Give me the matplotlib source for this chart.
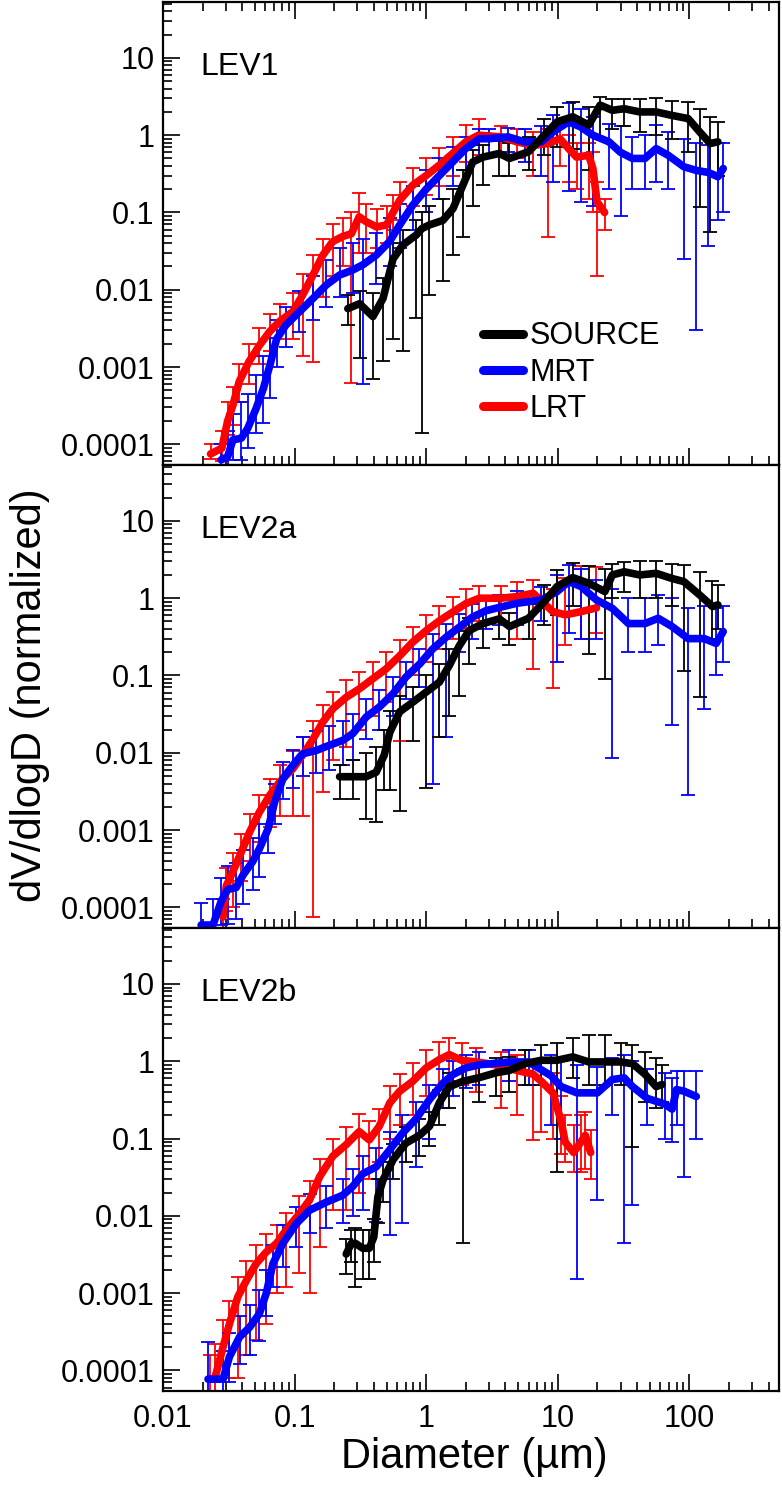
import numpy as np
import matplotlib
matplotlib.use('Agg')
import matplotlib.pyplot as plt
from matplotlib.ticker import FixedLocator, FuncFormatter

plt.rcParams['font.family'] = ['Liberation Sans', 'DejaVu Sans']

# ---------------- LEV1 ----------------
p1_lrt_x = [0.023, 0.028, 0.031, 0.034, 0.038, 0.045, 0.054, 0.065, 0.077, 0.097, 0.115, 0.138, 0.164,
            0.195, 0.233, 0.27, 0.31, 0.35, 0.42, 0.50, 0.56, 0.63, 0.79, 1.0, 1.26, 1.59, 2.0, 2.5,
            3.7, 4.9, 6.5, 8.5, 10.4, 12.1, 13.9, 17.2, 18.5, 19.9, 22.7]
p1_lrt_y = [7.5e-5, 8.9e-5, 2.0e-4, 3.2e-4, 6.5e-4, 1.17e-3, 1.9e-3, 2.9e-3, 3.9e-3, 5.2e-3, 8.5e-3, 0.0155,
            0.028, 0.042, 0.049, 0.053, 0.088, 0.076, 0.065, 0.069, 0.10, 0.144, 0.225, 0.30, 0.41, 0.58,
            0.82, 1.0, 0.95, 0.82, 0.74, 0.78, 0.9, 0.67, 0.52, 0.55, 0.37, 0.137, 0.10]
p1_lrt_hi = [1.0e-4, 1.5e-4, 3.5e-4, 5.5e-4, 1.1e-3, 2.0e-3, 3.2e-3, 4.8e-3, 6.5e-3, 9.0e-3, 0.016, 0.028,
             0.045, 0.07, 0.085, 0.10, 0.18, 0.13, 0.11, 0.12, 0.17, 0.25, 0.38, 0.5, 0.68, 0.95, 1.35,
             1.6, 1.3, 1.2, 1.1, 1.2, 1.3, 1.0, 0.8, 0.8, 0.6, 0.25, 0.15]
p1_lrt_lo = [6.5e-5, 6e-5, 1.3e-4, 1.8e-4, 3.5e-4, 6e-4, 1.1e-3, 1.6e-3, 2.3e-3, 2.3e-3, 1.4e-3, 1.15e-3,
             8e-3, 0.015, 0.02, 6.2e-4, 0.03, 0.03, 0.035, 0.04, 0.06, 0.08, 0.12, 0.17, 0.22, 0.3, 0.45,
             0.55, 0.6, 0.5, 0.3, 0.048, 0.4, 0.25, 0.2, 0.15, 0.1, 0.015, 0.06]

p1_mrt_x = [0.0277, 0.031, 0.034, 0.0394, 0.044, 0.051, 0.058, 0.065, 0.073, 0.086, 0.109, 0.138, 0.174,
            0.22, 0.277, 0.33, 0.417, 0.527, 0.63, 0.79, 1.0, 1.26, 1.59, 2.0, 2.54, 3.0, 4.2, 5.6, 7.5,
            9.2, 12.1, 14.9, 18.5, 24.5, 30, 37, 46, 56, 69, 91, 113, 139, 165, 181]
p1_mrt_y = [6.3e-5, 6.9e-5, 1.14e-4, 1.2e-4, 1.6e-4, 2.9e-4, 5.3e-4, 1.06e-3, 2.3e-3, 3.5e-3, 5.2e-3, 7.7e-3,
            0.0115, 0.0155, 0.018, 0.021, 0.028, 0.042, 0.069, 0.124, 0.20, 0.30, 0.45, 0.67, 0.9, 0.9,
            0.95, 0.82, 0.82, 1.1, 1.49, 1.28, 1.0, 0.82, 0.6, 0.5, 0.5, 0.67, 0.55, 0.39, 0.35, 0.33,
            0.29, 0.37]
p1_mrt_hi = [1.0e-4, 1.5e-4, 2.5e-4, 3.5e-4, 4.5e-4, 8e-4, 1.4e-3, 2.4e-3, 4e-3, 6e-3, 0.0095, 0.015, 0.024,
             0.035, 0.04, 0.045, 0.055, 0.085, 0.13, 0.22, 0.35, 0.5, 0.7, 0.95, 1.2, 1.2, 1.25, 1.2, 1.3,
             1.8, 2.6, 2.2, 1.7, 1.4, 1.3, 0.95, 1.0, 1.35, 1.1, 0.9, 0.8, 0.75, 0.8, 0.8]
p1_mrt_lo = [5e-5, 5e-5, 6.3e-5, 6.3e-5, 9e-5, 1.4e-4, 1.9e-4, 4e-4, 1e-3, 1.8e-3, 2.8e-3, 4e-3, 6e-3, 8e-3,
             9e-3, 6e-4, 0.012, 0.02, 0.035, 0.06, 0.1, 0.15, 0.22, 0.35, 0.5, 0.55, 0.6, 0.45, 0.3, 0.25,
             0.19, 0.137, 0.12, 0.2, 0.09, 0.2, 0.2, 0.25, 0.2, 0.025, 0.003, 0.037, 0.08, 0.1]

p1_src_x = [0.254, 0.312, 0.394, 0.47, 0.56, 0.665, 0.84, 0.93, 1.06, 1.34, 1.6, 1.9, 2.26, 2.7, 3.6, 4.3,
            6.0, 7.9, 9.9, 13, 17.2, 21, 26, 32, 42, 56, 74, 98, 120, 144, 165]
p1_src_y = [5.7e-3, 6.6e-3, 4.5e-3, 7.7e-3, 0.025, 0.038, 0.051, 0.062, 0.069, 0.079, 0.112, 0.225, 0.45,
            0.52, 0.58, 0.50, 0.61, 1.0, 1.49, 1.73, 1.35, 2.45, 2.1, 2.2, 2.0, 2.0, 1.8, 1.64, 1.1, 0.78,
            0.82]
p1_src_hi = [8.5e-3, 9.5e-3, 9e-3, 0.014, 0.04, 0.06, 0.08, 0.1, 0.12, 0.15, 0.2, 0.35, 0.65, 0.75, 0.85,
             0.8, 0.95, 1.6, 2.3, 2.7, 2.3, 3.1, 2.9, 2.9, 2.9, 3.0, 2.8, 2.7, 2.2, 1.7, 1.5]
p1_src_lo = [3.5e-3, 1.3e-3, 7e-4, 1.2e-3, 2.3e-3, 1.6e-3, 4.3e-3, 1.4e-4, 8.5e-3, 0.013, 0.028, 0.048,
             0.12, 0.225, 0.3, 0.3, 0.35, 0.55, 0.7, 0.67, 0.35, 0.9, 1.2, 1.3, 1.1, 1.0, 0.9, 0.6, 0.117,
             0.056, 0.3]

# ---------------- LEV2a ----------------
p2_lrt_x = [0.0286, 0.0303, 0.034, 0.0394, 0.0455, 0.054, 0.0646, 0.077, 0.097, 0.115, 0.138, 0.164, 0.195,
            0.246, 0.31, 0.394, 0.497, 0.63, 0.79, 1.0, 1.26, 1.59, 2.0, 2.54, 3.7, 4.9, 6.5, 9.2, 11.4,
            15.0, 19.7]
p2_lrt_y = [7.5e-5, 1.9e-4, 2.9e-4, 5.2e-4, 9.4e-4, 1.7e-3, 2.8e-3, 4.2e-3, 6.2e-3, 9.3e-3, 0.015, 0.025,
            0.037, 0.052, 0.067, 0.091, 0.122, 0.18, 0.27, 0.38, 0.51, 0.66, 0.85, 1.0, 1.0, 1.05, 1.16,
            0.67, 0.61, 0.67, 0.75]
p2_lrt_hi = [1.3e-4, 3.2e-4, 5e-4, 9e-4, 1.6e-3, 2.8e-3, 4.6e-3, 7e-3, 0.0105, 0.016, 0.026, 0.042, 0.062,
             0.088, 0.11, 0.15, 0.2, 0.29, 0.43, 0.6, 0.8, 1.05, 1.3, 1.45, 1.45, 1.6, 1.7, 1.3, 1.8, 2.6,
             2.5]
p2_lrt_lo = [5e-5, 9e-5, 1.0e-4, 2.2e-4, 4e-4, 7e-4, 1.1e-3, 1.5e-3, 1.5e-3, 1.5e-3, 7.5e-5, 3.1e-3, 8e-3,
             0.012, 0.02, 0.03, 0.045, 0.014, 0.1, 0.15, 0.22, 0.3, 0.4, 0.5, 0.5, 0.3, 0.12, 0.068, 0.25,
             0.3, 0.35]

p2_mrt_x = [0.0195, 0.024, 0.0277, 0.031, 0.036, 0.0405, 0.048, 0.054, 0.063, 0.0705, 0.0815, 0.097, 0.115,
            0.146, 0.184, 0.233, 0.277, 0.35, 0.44, 0.56, 0.70, 0.89, 1.12, 1.41, 1.78, 2.25, 2.85, 3.6,
            4.9, 7.5, 9.9, 12.1, 15, 19.7, 26, 34.5, 46, 58, 74, 98, 130, 160, 181]
p2_mrt_y = [5.9e-5, 5.9e-5, 1.2e-4, 1.7e-4, 1.8e-4, 2.6e-4, 3.9e-4, 5.7e-4, 1.04e-3, 2.3e-3, 4.6e-3, 6.9e-3,
            9.7e-3, 0.0107, 0.0125, 0.0145, 0.0177, 0.029, 0.039, 0.058, 0.095, 0.14, 0.22, 0.31, 0.42, 0.57,
            0.69, 0.76, 0.86, 0.95, 1.22, 1.64, 1.42, 0.95, 0.74, 0.47, 0.47, 0.55, 0.43, 0.30, 0.30, 0.26,
            0.37]
p2_mrt_hi = [1.15e-4, 1.3e-4, 2.4e-4, 3.4e-4, 3.8e-4, 5.5e-4, 8e-4, 1.2e-3, 2e-3, 4e-3, 7.5e-3, 0.011, 0.016,
             0.019, 0.022, 0.026, 0.032, 0.05, 0.065, 0.095, 0.15, 0.22, 0.34, 0.47, 0.63, 0.85, 1.0, 1.1,
             1.25, 1.4, 2.0, 2.7, 2.4, 1.7, 1.3, 1.0, 1.0, 1.1, 1.0, 0.75, 0.8, 0.75, 0.8]
p2_mrt_lo = [3e-5, 3e-5, 5.9e-5, 6e-5, 7e-5, 1.1e-4, 1.7e-4, 2.5e-4, 5e-4, 1.2e-3, 2.5e-3, 3.5e-3, 5e-3,
             5.5e-3, 6e-3, 7e-3, 8e-3, 0.015, 0.02, 0.03, 0.05, 0.07, 3.9e-3, 0.016, 0.2, 0.3, 0.4, 0.45,
             0.45, 0.5, 0.15, 0.35, 0.3, 0.3, 8.5e-3, 0.2, 0.2, 0.25, 0.023, 2.8e-3, 0.037, 0.1, 0.15]

p2_src_x = [0.22, 0.277, 0.35, 0.417, 0.48, 0.53, 0.63, 0.79, 1.0, 1.26, 1.5, 1.78, 2.12, 2.7, 3.6, 4.3, 6.0,
            7.9, 9.9, 13, 17.2, 22.8, 26, 32, 42, 56, 74, 91, 120, 150, 165]
p2_src_y = [4.9e-3, 4.9e-3, 4.9e-3, 5.6e-3, 9.3e-3, 0.0185, 0.034, 0.045, 0.061, 0.082, 0.135, 0.24, 0.38,
            0.47, 0.54, 0.43, 0.55, 0.9, 1.42, 1.85, 1.56, 1.22, 2.0, 2.2, 2.0, 2.1, 1.8, 1.64, 1.1, 0.78,
            0.82]
p2_src_hi = [7e-3, 8e-3, 0.01, 0.012, 0.02, 0.035, 0.055, 0.07, 0.1, 0.14, 0.22, 0.38, 0.55, 0.65, 0.75,
             0.65, 0.85, 1.5, 2.3, 2.85, 2.6, 2.4, 2.8, 2.9, 3.0, 3.0, 2.8, 2.7, 2.2, 1.65, 1.5]
p2_src_lo = [2.5e-3, 2.5e-3, 1.4e-3, 1.26e-3, 3.3e-3, 3.3e-3, 1.75e-3, 0.014, 3.5e-3, 0.016, 0.03, 0.055,
             0.14, 0.23, 0.3, 0.25, 0.3, 0.45, 0.6, 0.8, 0.19, 0.09, 1.0, 1.2, 1.0, 1.0, 0.8, 0.115, 0.052,
             0.3, 0.4]

# ---------------- LEV2b ----------------
p3_lrt_x = [0.0226, 0.0247, 0.0286, 0.032, 0.037, 0.043, 0.051, 0.061, 0.073, 0.086, 0.109, 0.13, 0.155,
            0.195, 0.246, 0.31, 0.37, 0.44, 0.53, 0.63, 0.79, 1.0, 1.26, 1.5, 1.86, 2.4, 3.7, 4.9, 6.5,
            7.5, 9.2, 10.6, 11.4, 13.2, 15.0, 16.2, 17.8]
p3_lrt_y = [7.7e-5, 7.7e-5, 2e-4, 4e-4, 8.9e-4, 1.45e-3, 2.4e-3, 3.4e-3, 4.4e-3, 6.5e-3, 0.0107, 0.016,
            0.032, 0.059, 0.083, 0.123, 0.096, 0.144, 0.29, 0.41, 0.55, 0.82, 1.05, 1.22, 1.03, 0.98, 0.88,
            0.76, 0.68, 0.55, 0.39, 0.168, 0.09, 0.066, 0.09, 0.11, 0.066]
p3_lrt_hi = [1.6e-4, 2.2e-4, 4.5e-4, 8e-4, 1.6e-3, 2.6e-3, 4.2e-3, 5.8e-3, 7.5e-3, 0.011, 0.018, 0.028,
             0.055, 0.1, 0.14, 0.21, 0.17, 0.24, 0.48, 0.68, 0.95, 1.4, 1.8, 2.0, 1.7, 1.5, 1.3, 1.2, 1.05,
             0.95, 0.7, 0.35, 0.2, 0.15, 0.2, 0.22, 0.13]
p3_lrt_lo = [5e-5, 5e-5, 8e-5, 8e-5, 8e-5, 1.6e-4, 2.5e-4, 4e-4, 1e-3, 1.2e-3, 1.8e-3, 1e-3, 4e-3, 0.012,
             0.012, 0.02, 0.03, 0.05, 0.1, 0.15, 0.2, 0.35, 0.5, 0.55, 0.5, 0.4, 0.25, 0.2, 0.095, 0.12,
             0.1, 0.063, 0.05, 0.037, 0.037, 0.04, 0.03]

p3_mrt_x = [0.022, 0.0286, 0.032, 0.0382, 0.0455, 0.054, 0.061, 0.0685, 0.0815, 0.103, 0.13, 0.174, 0.233,
            0.277, 0.33, 0.417, 0.527, 0.66, 0.84, 1.06, 1.34, 1.59, 2.0, 2.54, 4.3, 6.0, 8.9, 10.6, 14,
            20, 26, 32, 37, 48, 65, 74, 80, 91, 113]
p3_mrt_y = [7.7e-5, 7.7e-5, 1.5e-4, 2.7e-4, 3.6e-4, 5.4e-4, 1e-3, 2.4e-3, 4.4e-3, 7.9e-3, 0.0118, 0.015,
            0.0185, 0.024, 0.035, 0.043, 0.071, 0.117, 0.18, 0.32, 0.52, 0.67, 0.82, 0.9, 0.98, 0.98, 0.65,
            0.47, 0.39, 0.39, 0.58, 0.61, 0.47, 0.33, 0.28, 0.24, 0.43, 0.41, 0.35]
p3_mrt_hi = [2.3e-4, 1.8e-4, 3e-4, 5e-4, 7e-4, 1.1e-3, 2e-3, 4.2e-3, 7.5e-3, 0.013, 0.019, 0.024, 0.03, 0.04,
             0.06, 0.075, 0.12, 0.2, 0.3, 0.5, 0.8, 1.0, 1.2, 1.3, 1.4, 1.4, 1.2, 1.0, 0.9, 0.85, 1.1, 1.2,
             1.0, 0.8, 0.7, 0.6, 0.75, 0.75, 0.75]
p3_mrt_lo = [3e-5, 4e-5, 7e-5, 1.2e-4, 1.6e-4, 2.4e-4, 5e-4, 1.2e-3, 2.2e-3, 4e-3, 6e-3, 7e-3, 8e-3, 0.01,
             0.012, 8.3e-3, 5.6e-3, 8e-3, 0.043, 0.1, 0.25, 0.35, 0.45, 0.5, 0.55, 0.5, 0.15, 0.1, 1.5e-3,
             0.016, 0.2, 4.5e-3, 0.014, 0.15, 0.1, 0.09, 0.15, 0.032, 0.1]

p3_src_x = [0.247, 0.27, 0.29, 0.33, 0.37, 0.40, 0.43, 0.47, 0.56, 0.70, 0.89, 1.06, 1.26, 1.5, 1.9, 2.5,
            3.4, 4.3, 5.6, 7.5, 9.9, 13, 17.2, 23, 30, 37, 46, 56, 62]
p3_src_y = [3.2e-3, 4.4e-3, 4.4e-3, 3.8e-3, 3.8e-3, 5.3e-3, 0.0177, 0.029, 0.053, 0.087, 0.11, 0.144, 0.29,
            0.47, 0.55, 0.61, 0.71, 0.76, 0.93, 1.03, 1.03, 1.14, 0.98, 0.98, 0.98, 0.93, 0.68, 0.47, 0.5]
p3_src_hi = [5e-3, 6.5e-3, 7e-3, 6.5e-3, 6.5e-3, 9e-3, 0.03, 0.05, 0.085, 0.14, 0.18, 0.22, 0.42, 0.7, 0.8,
             0.9, 1.1, 1.15, 1.4, 1.6, 1.7, 2.0, 2.2, 2.2, 1.7, 1.6, 1.3, 1.1, 0.9]
p3_src_lo = [1.75e-3, 2.5e-3, 1.2e-3, 1.5e-3, 1.5e-3, 2.5e-3, 8e-3, 0.015, 0.03, 0.05, 0.06, 0.08, 0.15,
             0.25, 4.5e-3, 0.3, 0.35, 0.4, 0.5, 0.5, 0.037, 0.6, 0.5, 0.5, 0.5, 0.078, 0.3, 0.25, 0.3]

panel_names = ['LEV1', 'LEV2a', 'LEV2b']
series_names = ['SOURCE', 'MRT', 'LRT']
series_colors = ['#000000', '#0000ff', '#ff0000']

x_major = [0.01, 0.1, 1, 10, 100]
y_major = [0.0001, 0.001, 0.01, 0.1, 1, 10]

panels = [
    {'SOURCE': (p1_src_x, p1_src_y, p1_src_lo, p1_src_hi),
     'MRT': (p1_mrt_x, p1_mrt_y, p1_mrt_lo, p1_mrt_hi),
     'LRT': (p1_lrt_x, p1_lrt_y, p1_lrt_lo, p1_lrt_hi)},
    {'SOURCE': (p2_src_x, p2_src_y, p2_src_lo, p2_src_hi),
     'MRT': (p2_mrt_x, p2_mrt_y, p2_mrt_lo, p2_mrt_hi),
     'LRT': (p2_lrt_x, p2_lrt_y, p2_lrt_lo, p2_lrt_hi)},
    {'SOURCE': (p3_src_x, p3_src_y, p3_src_lo, p3_src_hi),
     'MRT': (p3_mrt_x, p3_mrt_y, p3_mrt_lo, p3_mrt_hi),
     'LRT': (p3_lrt_x, p3_lrt_y, p3_lrt_lo, p3_lrt_hi)},
]

xlo, xhi = 0.01, 480
ylo, yhi = 5.4e-5, 53

# minor tick positions inside the view (2..9 of each decade)
x_minor = [m * 10.0 ** e for e in range(-2, 3) for m in range(2, 10) if m * 10.0 ** e < xhi]
y_minor = [m * 10.0 ** e for e in range(-5, 2) for m in range(2, 10) if ylo < m * 10.0 ** e < yhi]

fig = plt.figure(figsize=(7.82, 14.86), dpi=100)

left = 0.2084
width = 0.7877
height = 0.3116
bottoms = [0.6871, 0.3755, 0.0639]

fmt = FuncFormatter(lambda v, pos: '%g' % v)

axes = []
for k in range(3):
    ax = fig.add_axes([left, bottoms[k], width, height])
    axes.append(ax)
    data = panels[k]

    # error bars underneath, LRT first
    for name, col in zip(series_names[::-1], series_colors[::-1]):
        x, y, lo, hi = [np.array(a) for a in data[name]]
        ax.errorbar(x, y, yerr=[y - lo, hi - y], fmt='none', ecolor=col,
                    elinewidth=1.3, capsize=5, capthick=1.3, zorder=2)
    for name, col in zip(series_names[::-1], series_colors[::-1]):
        x, y, lo, hi = data[name]
        ax.plot(x, y, color=col, lw=5.5, solid_joinstyle='round',
                solid_capstyle='round', zorder=3, label=name)

    ax.set_xscale('log')
    ax.set_yscale('log')
    ax.set_xlim(xlo, xhi)
    ax.set_ylim(ylo, yhi)

    ax.xaxis.set_major_locator(FixedLocator(x_major))
    ax.xaxis.set_minor_locator(FixedLocator(x_minor))
    ax.yaxis.set_major_locator(FixedLocator(y_major))
    ax.yaxis.set_minor_locator(FixedLocator(y_minor))
    ax.xaxis.set_major_formatter(fmt)
    ax.yaxis.set_major_formatter(fmt)

    ax.tick_params(which='both', direction='in', top=(k == 0), right=False,
                   width=1.2, labelsize=22)
    ax.tick_params(which='minor', labelleft=False, labelbottom=False)
    ax.tick_params(which='major', length=12)
    ax.tick_params(which='minor', length=6.5)
    ax.tick_params(axis='y', pad=6)
    ax.tick_params(axis='x', pad=9)
    if k < 2:
        ax.tick_params(axis='x', which='both', labelbottom=False)
    for sp in ax.spines.values():
        sp.set_linewidth(1.6)

    ax.text(0.06, 0.86, panel_names[k], transform=ax.transAxes, fontsize=23,
            ha='left', va='center')

# legend in the top panel, SOURCE / MRT / LRT order
h, l = axes[0].get_legend_handles_labels()
order = [l.index(n) for n in series_names]
leg = axes[0].legend([h[i] for i in order], [l[i] for i in order],
                     loc='upper left', bbox_to_anchor=(0.52, 0.31), frameon=False,
                     fontsize=22, handlelength=1.3, handletextpad=0.2,
                     labelspacing=0.2, borderpad=0, borderaxespad=0)
for line in leg.get_lines():
    line.set_linewidth(6.5)

fig.text(0.607, 0.012, 'Diameter (µm)', fontsize=30, ha='center', va='baseline')
fig.text(0.038, 0.532, 'dV/dlogD (normalized)', fontsize=30, rotation=90,
         ha='center', va='center')

fig.savefig('out.png', dpi=100)
